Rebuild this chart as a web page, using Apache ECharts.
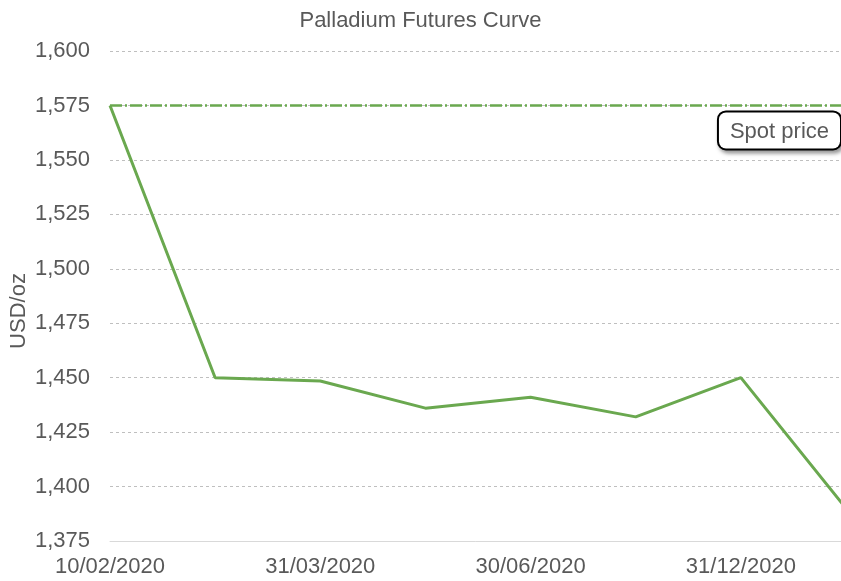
<!DOCTYPE html>
<html>
<head>
<meta charset="utf-8">
<script src="https://cdn.jsdelivr.net/npm/echarts@6/dist/echarts.min.js"></script>
<style>
  html, body { margin: 0; padding: 0; background: #fff; }
  #chart { width: 841px; height: 581px; }
</style>
</head>
<body>
<div id="chart"></div>
<script>
const dates = ["10/02/2020", "28/02/2020", "31/03/2020", "29/05/2020", "30/06/2020", "30/09/2020", "31/12/2020", "31/03/2021"];
const prices = [1575, 1450, 1448.5, 1436, 1441, 1432, 1450, 1390];
const spotPrice = 1575;

const textColor = "#595959";
const green = "#6aa84f";

const chart = echarts.init(document.getElementById("chart"));
chart.setOption({
  animation: false,
  textStyle: { fontFamily: "Liberation Sans, Arial, sans-serif" },
  title: {
    text: "Palladium Futures Curve",
    left: "center",
    top: 5,
    textStyle: { color: textColor, fontSize: 22, fontWeight: "normal" },
  },
  grid: { left: 110, right: -5, top: 51, bottom: 40, outerBoundsMode: "none", containLabel: false },
  xAxis: {
    type: "category",
    data: dates,
    boundaryGap: false,
    axisLine: { lineStyle: { color: "#d9d9d9", width: 1 } },
    axisTick: { show: false },
    axisLabel: { interval: 1, color: textColor, fontSize: 22, margin: 15 },
  },
  yAxis: {
    type: "value",
    min: 1375,
    max: 1600,
    interval: 25,
    name: "USD/oz",
    nameLocation: "middle",
    nameRotate: 90,
    nameGap: 80,
    nameMoveOverlap: false,
    nameTextStyle: { color: textColor, fontSize: 22, padding: [0, 30, 0, 0] },
    axisLine: { show: false },
    axisTick: { show: false },
    axisLabel: {
      color: textColor,
      fontSize: 22,
      margin: 20,
      formatter: (v) => v.toLocaleString("en-US"),
    },
    splitLine: { lineStyle: { color: "#bfbfbf", type: [3, 3], width: 1 } },
  },
  series: [
    {
      type: "line",
      data: prices,
      symbol: "none",
      lineStyle: { color: green, width: 3 },
      markLine: {
        silent: true,
        symbol: "none",
        data: [{ yAxis: spotPrice }],
        lineStyle: { color: green, width: 2.5, type: [12, 3, 2, 3] },
        label: {
          position: "insideEndBottom",
          formatter: "Spot price",
          color: textColor,
          fontSize: 22,
          distance: [6, 7],
          backgroundColor: "#fff",
          borderColor: "#000",
          borderWidth: 2,
          borderRadius: 7,
          padding: [8, 11, 6, 11],
          shadowColor: "rgba(0,0,0,0.35)",
          shadowBlur: 4,
          shadowOffsetX: 2,
          shadowOffsetY: 3,
        },
      },
    },
  ],
});
</script>
</body>
</html>
